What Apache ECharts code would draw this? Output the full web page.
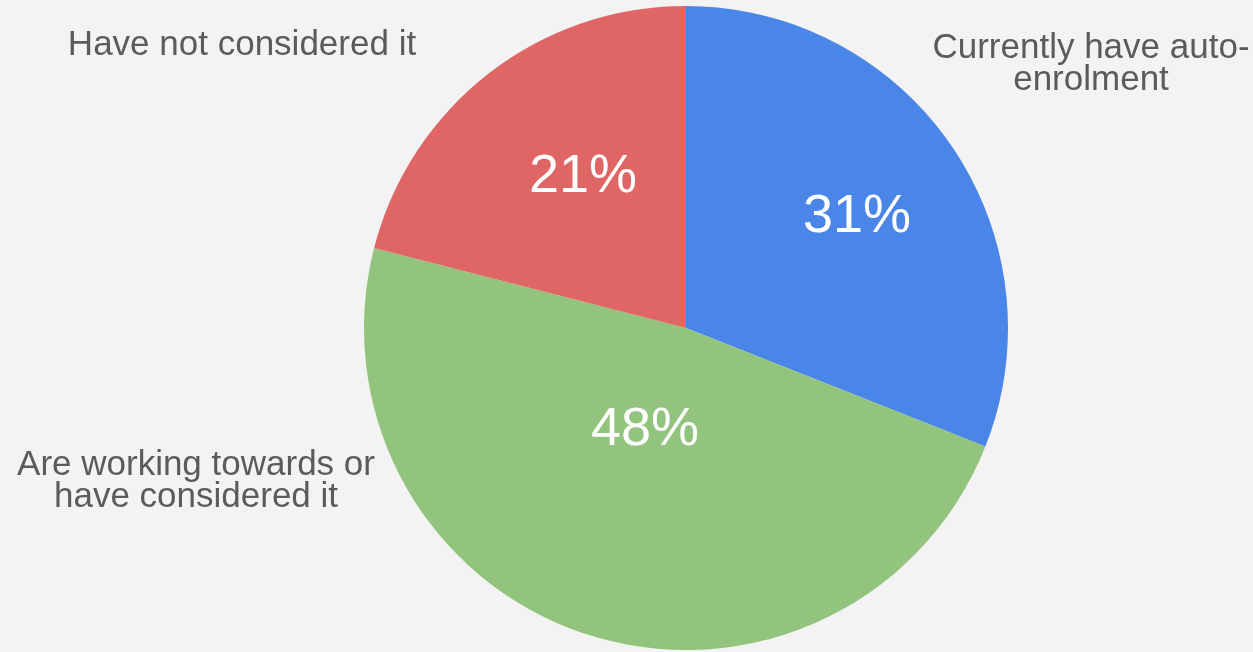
<!DOCTYPE html>
<html>
<head>
<meta charset="utf-8">
<script src="https://cdn.jsdelivr.net/npm/echarts@6/dist/echarts.min.js"></script>
<style>
  html, body { margin: 0; padding: 0; background: #f3f3f3; }
  #chart { width: 1253px; height: 652px; }
</style>
</head>
<body>
<div id="chart"></div>
<script>
// ---- Data ----
const categories = [
  'Currently have auto-\nenrolment',
  'Are working towards or\nhave considered it',
  'Have not considered it'
];
const values = [31, 48, 21];
const colors = ['#4a86e8', '#93c47d', '#e06666'];

// ---- Layout (label placement, Google-Charts style) ----
const CX = 686, CY = 328, R = 322;
const innerLabelPos = [[171, -111], [-41, 102], [-103, -151]];   // offsets from pie centre
const outerLabelPos = [[1091, 64], [196, 481], [242, 45]];      // absolute

const chart = echarts.init(document.getElementById('chart'), null, { renderer: 'canvas' });

const pieData = categories.map((c, i) => ({
  name: c,
  value: values[i],
  itemStyle: { color: colors[i] }
}));

const option = {
  backgroundColor: '#f3f3f3',
  animation: false,
  series: [
    {
      type: 'pie',
      center: [CX, CY],
      radius: [0, R],
      startAngle: 90,
      clockwise: true,
      avoidLabelOverlap: false,
      data: pieData,
      itemStyle: { borderWidth: 0 },
      label: {
        show: true,
        position: 'inside',
        formatter: '{d}%',
        color: '#ffffff',
        fontSize: 54,
        fontFamily: 'Liberation Sans, Arial, sans-serif'
      },
      labelLine: { show: false },
      labelLayout: function (p) {
        const o = innerLabelPos[p.dataIndex];
        return { x: CX + o[0], y: CY + o[1], align: 'center', verticalAlign: 'middle' };
      },
      emphasis: { disabled: true }
    },
    {
      type: 'pie',
      silent: true,
      center: [CX, CY],
      radius: [0, R],
      startAngle: 90,
      clockwise: true,
      avoidLabelOverlap: false,
      data: pieData.map(d => ({ name: d.name, value: d.value, itemStyle: { color: 'rgba(0,0,0,0)' } })),
      label: {
        show: true,
        position: 'outside',
        formatter: '{b}',
        color: '#5b5b5b',
        fontSize: 35,
        lineHeight: 32,
        align: 'center',
        fontFamily: 'Liberation Sans, Arial, sans-serif'
      },
      labelLine: { show: false },
      labelLayout: function (p) {
        const o = outerLabelPos[p.dataIndex];
        return { x: o[0], y: o[1], align: 'center', verticalAlign: 'middle', hideOverlap: false };
      },
      emphasis: { disabled: true }
    }
  ]
};

chart.setOption(option);
</script>
</body>
</html>
